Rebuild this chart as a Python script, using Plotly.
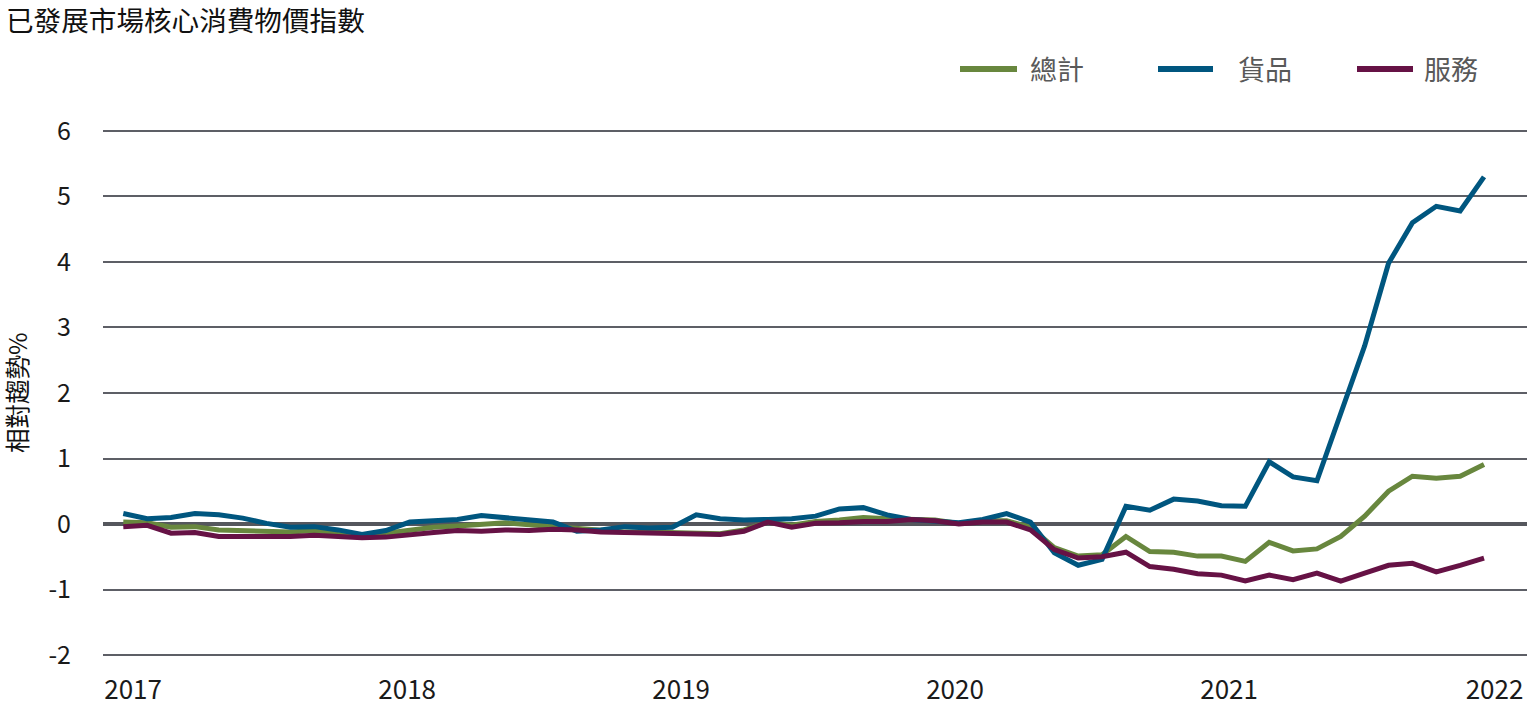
import plotly.graph_objects as go

# ---- data (month index 0..57) ----
months = list(range(58))
year_labels = ["2017", "2018", "2019", "2020", "2021", "2022"]
y_ticks = [-2, -1, 0, 1, 2, 3, 4, 5, 6]
y_tick_labels = ["-2", "-1", "0", "1", "2", "3", "4", "5", "6"]

total = [0.03, 0.02, -0.05, -0.04, -0.09, -0.10, -0.11, -0.12, -0.10, -0.13,
         -0.17, -0.14, -0.09, -0.05, -0.03, 0.00, 0.02, -0.01, -0.04, -0.06,
         -0.10, -0.12, -0.12, -0.13, -0.14, -0.15, -0.09, 0.03, -0.02, 0.04,
         0.06, 0.10, 0.08, 0.07, 0.06, 0.01, 0.05, 0.05, -0.05, -0.36,
         -0.49, -0.47, -0.19, -0.42, -0.43, -0.49, -0.49, -0.57, -0.28, -0.41,
         -0.38, -0.19, 0.12, 0.50, 0.73, 0.70, 0.73, 0.91]

goods = [0.16, 0.08, 0.10, 0.16, 0.14, 0.09, 0.01, -0.05, -0.04, -0.09,
         -0.16, -0.10, 0.03, 0.05, 0.07, 0.13, 0.10, 0.07, 0.03, -0.11,
         -0.09, -0.04, -0.06, -0.05, 0.14, 0.08, 0.06, 0.07, 0.08, 0.12,
         0.23, 0.25, 0.14, 0.07, 0.04, 0.02, 0.07, 0.16, 0.03, -0.44,
         -0.63, -0.54, 0.27, 0.21, 0.38, 0.35, 0.28, 0.27, 0.95, 0.72,
         0.66, 1.68, 2.72, 3.98, 4.60, 4.85, 4.78, 5.30]

services = [-0.04, -0.02, -0.14, -0.13, -0.19, -0.19, -0.20, -0.19, -0.17, -0.19,
            -0.21, -0.20, -0.16, -0.13, -0.10, -0.11, -0.09, -0.10, -0.08, -0.09,
            -0.12, -0.13, -0.13, -0.14, -0.15, -0.16, -0.11, 0.03, -0.05, 0.01,
            0.02, 0.04, 0.04, 0.07, 0.05, 0.00, 0.03, 0.03, -0.09, -0.39,
            -0.52, -0.50, -0.43, -0.65, -0.69, -0.76, -0.78, -0.87, -0.78, -0.85,
            -0.75, -0.87, -0.75, -0.63, -0.60, -0.73, -0.63, -0.52]

series_names = ["總計", "貨品", "服務"]
chart_title = "已發展市場核心消費物價指數"
y_title = "相對趨勢%"

# ---- styling / layout constants ----
FONT = "Noto Sans CJK TC"
colors = ["#68873E", "#00567F", "#661245"]
year_tick_pos = [0.41, 11.89, 23.37, 34.84, 46.32, 57.44]
W, H = 1532, 720
L, R, T, B = 103, 5, 129, 63
PW, PH = W - L - R, H - T - B


def px_x(x):  # pixel -> paper x
    return (x - L) / PW


def px_y(y):  # pixel -> paper y
    return (H - B - y) / PH


# legend item geometry in pixels: (line start, line end, text start)
legend_geom = [(960, 1017, 1029), (1158, 1213, 1237), (1357, 1413, 1423)]
legend_y = 69

fig = go.Figure()
for name, ys, col in zip(series_names, [total, goods, services], colors):
    fig.add_trace(go.Scatter(x=months, y=ys, name=name, mode="lines",
                             line=dict(color=col, width=5), showlegend=False))

shapes = []
annotations = []
for name, col, (x0, x1, tx) in zip(series_names, colors, legend_geom):
    shapes.append(dict(type="line", xref="paper", yref="paper",
                       x0=px_x(x0), x1=px_x(x1), y0=px_y(legend_y), y1=px_y(legend_y),
                       line=dict(color=col, width=6)))
    annotations.append(dict(text=name, xref="paper", yref="paper",
                            x=px_x(tx), y=px_y(legend_y - 1), xanchor="left", yanchor="middle",
                            showarrow=False, borderpad=0,
                            font=dict(family=FONT, size=27, color="#595959")))

annotations.append(dict(text=chart_title, xref="paper", yref="paper",
                        x=px_x(5), y=px_y(19), xanchor="left", yanchor="middle",
                        showarrow=False, borderpad=0,
                        font=dict(family=FONT, size=27.6, color="#111111")))
annotations.append(dict(text=y_title, xref="paper", yref="paper",
                        x=px_x(16), y=px_y(393), xanchor="center", yanchor="middle",
                        textangle=-90, showarrow=False, borderpad=0,
                        font=dict(family=FONT, size=24.5, color="#111111")))

fig.update_layout(
    width=W, height=H,
    margin=dict(l=L, r=R, t=T, b=B, autoexpand=False),
    paper_bgcolor="white", plot_bgcolor="white",
    font=dict(family=FONT, size=24, color="#222222"),
    shapes=shapes, annotations=annotations,
    showlegend=False,
)

fig.update_xaxes(range=[-0.85, 58.8], tickmode="array", tickvals=year_tick_pos,
                 ticktext=year_labels, showgrid=False, zeroline=False,
                 showline=False, ticks="", ticklabelstandoff=15,
                 tickfont=dict(family=FONT, size=26, color="#1a1a1a"))

fig.update_yaxes(range=[-2.03, 6.03], tickmode="array", tickvals=y_ticks,
                 ticktext=y_tick_labels,
                 showgrid=True, gridcolor="#5d5f66", gridwidth=2,
                 zeroline=True, zerolinecolor="#55575d", zerolinewidth=3.5,
                 showline=False, ticks="", ticklabelstandoff=31,
                 tickfont=dict(family=FONT, size=25, color="#1a1a1a"))

fig.write_html("out.html", config={"displayModeBar": False},
               post_script="document.body.style.margin='0px';")
